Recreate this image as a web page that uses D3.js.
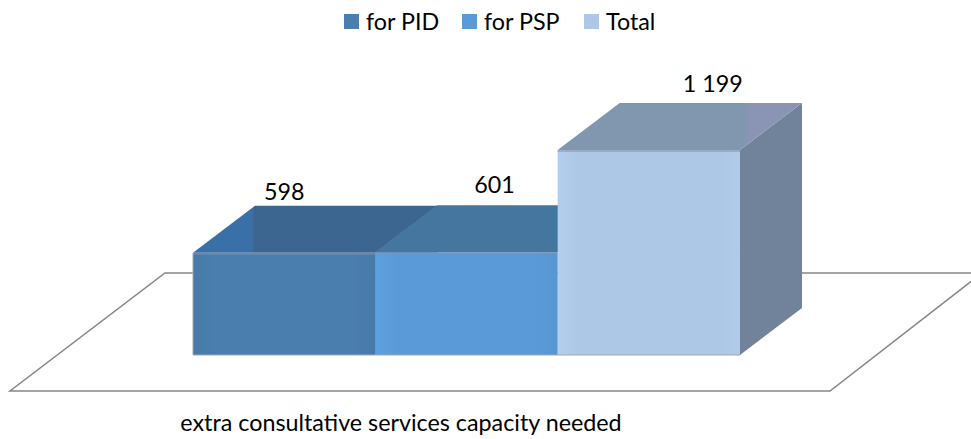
<!DOCTYPE html>
<html>
<head>
<meta charset="utf-8">
<script src="https://cdn.jsdelivr.net/npm/d3@7"></script>
<style>
html,body{margin:0;padding:0;background:#fff;overflow:hidden}
text{font-family:Lato,"Open Sans",sans-serif;fill:#000}
</style>
</head>
<body>
<svg id="c" width="971" height="439"></svg>
<script>
const categories = ["for PID", "for PSP", "Total"];
const values = [598, 601, 1199];
const valueLabels = ["598", "601", "1 199"];
const axisTitle = "extra consultative services capacity needed";

const W = 971, H = 439;
const depthX = 62, depthY = 47;
const svg = d3.select("#c");
const x = d3.scaleBand().domain(categories).range([193, 740]).padding(0);
const y = d3.scaleLinear().domain([0, 1199]).range([355, 150]);
const color = d3.scaleOrdinal().domain(categories).range(["#4a7eae", "#5b9ad8", "#adc7e6"]);
const topColor = d3.scaleOrdinal().domain(categories).range(["#3c6690", "#44769f", "#8197af"]);
const topAccent = d3.scaleOrdinal().domain(categories).range(["#3a70a8", "#44769f", "#8a94b4"]);
const sideColor = d3.scaleOrdinal().domain(categories).range(["#3c6690", "#44769f", "#70839a"]);
const labelShift = d3.scaleOrdinal().domain(categories).range([0, 28, 64]);
const labelY = d3.scaleOrdinal().domain(categories).range([200, 193, 92]);
const line = d3.line();

// floor (its right corner runs past the edge of the picture)
svg.append("path")
  .attr("d", line([[982, 273], [165, 273], [10, 391], [830, 391], [982, 273]]))
  .attr("fill", "none").attr("stroke", "#868686").attr("stroke-width", 1.5);

const defs = svg.append("defs");
categories.forEach((c, i) => {
  const g = defs.append("linearGradient").attr("id", "f" + i);
  const base = d3.color(color(c));
  [[0, i === 0 ? base.darker(0.1) : base.brighter(0.1)], [0.12, base], [0.88, base],
   [1, i === 2 ? base.brighter(0.05) : base.darker(0.08)]].forEach(([o, col]) =>
    g.append("stop").attr("offset", o).attr("stop-color", col));
  const t = defs.append("linearGradient").attr("id", "t" + i);
  const stops = i === 0
    ? [[0, topAccent(c)], [0.24, topAccent(c)], [0.25, topColor(c)], [1, topColor(c)]]
    : [[0, topColor(c)], [0.76, topColor(c)], [0.78, topAccent(c)], [1, topAccent(c)]];
  stops.forEach(([o, col]) => t.append("stop").attr("offset", o).attr("stop-color", col));
});

const rows = categories.map((c, i) => ({c, v: values[i], i}));
const bars = svg.selectAll("g.bar").data(rows).join("g").attr("class", "bar");

// side face
bars.append("path")
  .attr("d", d => {
    const r = x(d.c) + x.bandwidth(), t = y(d.v), b = y(0);
    return line([[r, t], [r + depthX, t - depthY], [r + depthX, b - depthY], [r, b]]) + "Z";
  })
  .attr("fill", d => sideColor(d.c));

// top face
bars.append("path")
  .attr("d", d => {
    const l = x(d.c), r = l + x.bandwidth(), t = y(d.v);
    return line([[l, t], [r, t], [r + depthX, t - depthY], [l + depthX, t - depthY]]) + "Z";
  })
  .attr("fill", d => `url(#t${d.i})`);

// front face
bars.append("rect")
  .attr("x", d => x(d.c)).attr("y", d => y(d.v))
  .attr("width", x.bandwidth()).attr("height", d => y(0) - y(d.v))
  .attr("fill", d => `url(#f${d.i})`);

// soft grey rim along each front face's top
bars.append("path")
  .attr("d", d => line([[x(d.c), y(d.v) + 1], [x(d.c) + x.bandwidth(), y(d.v) + 1]]))
  .attr("stroke", "#8a94a4").attr("stroke-opacity", 0.55).attr("stroke-width", 2).attr("fill", "none");

// bottom and left edges of the group
svg.append("path")
  .attr("d", line([[x.range()[0], y(values[0])], [x.range()[0], y(0)], [x.range()[1], y(0)]]))
  .attr("stroke", "#a0a8b0").attr("stroke-width", 1).attr("fill", "none");

// value labels
svg.selectAll("text.val").data(rows)
  .join("text").attr("class", "val")
  .attr("x", d => x(d.c) + x.bandwidth() / 2 + labelShift(d.c))
  .attr("y", d => labelY(d.c))
  .attr("text-anchor", "middle").attr("font-size", 23.3)
  .text(d => valueLabels[d.i]);

// axis title
svg.append("text").attr("x", 401).attr("y", 431)
  .attr("text-anchor", "middle").attr("font-size", 23.3).text(axisTitle);

// legend
const legendX = d3.scaleOrdinal().domain(categories).range([344, 462, 584]);
const leg = svg.selectAll("g.leg").data(categories).join("g").attr("class", "leg")
  .attr("transform", d => `translate(${legendX(d)},14)`);
leg.append("rect").attr("width", 15).attr("height", 15).attr("fill", d => color(d));
leg.append("text").attr("x", 22).attr("y", 16).attr("font-size", 23.3).text(d => d);
</script>
</body>
</html>
